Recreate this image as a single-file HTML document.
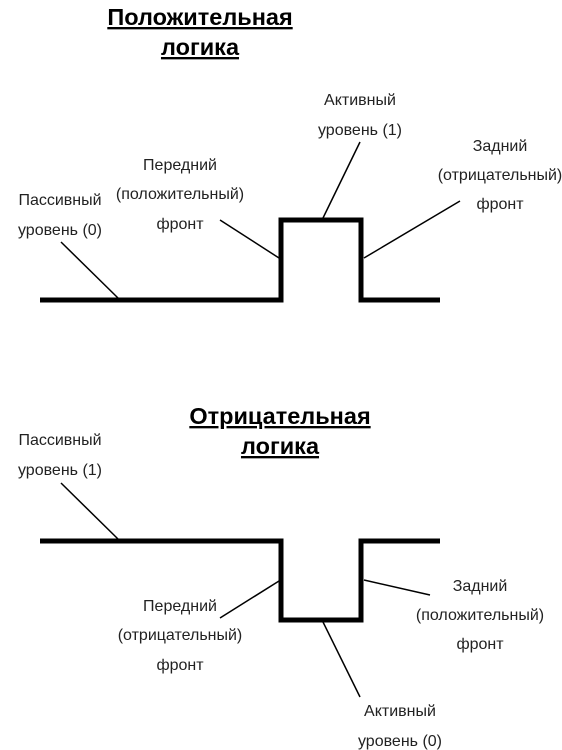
<!DOCTYPE html>
<html><head><meta charset="utf-8"><style>
html,body{margin:0;padding:0;background:#fff;}
svg{display:block;}
text{font-family:"Liberation Sans",Arial,sans-serif;fill:#222;}
.l{font-size:16px;}
.t{font-size:23.5px;font-weight:bold;fill:#000;text-decoration:underline;}
</style></head><body>
<svg width="562" height="750" viewBox="0 0 562 750" xmlns="http://www.w3.org/2000/svg">
<text class="t" x="200" y="25" text-anchor="middle">Положительная</text>
<text class="t" x="200" y="55" text-anchor="middle">логика</text>
<polyline points="40,300 281,300 281,220 361,220 361,300 440,300" fill="none" stroke="#000" stroke-width="5"/>
<g stroke="#000" stroke-width="1.5">
<line x1="61" y1="242" x2="118" y2="298"/>
<line x1="220" y1="220" x2="279" y2="258"/>
<line x1="360" y1="142" x2="323" y2="218"/>
<line x1="460" y1="201" x2="364" y2="258"/>
</g>
<g class="l">
<text x="60" y="205" text-anchor="middle">Пассивный</text>
<text x="60" y="235" text-anchor="middle">уровень (0)</text>
<text x="180" y="170" text-anchor="middle">Передний</text>
<text x="180" y="199" text-anchor="middle">(положительный)</text>
<text x="180" y="229" text-anchor="middle">фронт</text>
<text x="360" y="105" text-anchor="middle">Активный</text>
<text x="360" y="135" text-anchor="middle">уровень (1)</text>
<text x="500" y="151" text-anchor="middle">Задний</text>
<text x="500" y="180" text-anchor="middle">(отрицательный)</text>
<text x="500" y="209" text-anchor="middle">фронт</text>
</g>

<text class="t" x="280" y="424" text-anchor="middle">Отрицательная</text>
<text class="t" x="280" y="454" text-anchor="middle">логика</text>
<polyline points="40,541 281,541 281,620 361,620 361,541 440,541" fill="none" stroke="#000" stroke-width="5"/>
<g stroke="#000" stroke-width="1.5">
<line x1="61" y1="483" x2="118" y2="539"/>
<line x1="220" y1="618" x2="279" y2="581"/>
<line x1="323" y1="622" x2="360" y2="697"/>
<line x1="430" y1="595" x2="364" y2="580"/>
</g>
<g class="l">
<text x="60" y="445" text-anchor="middle">Пассивный</text>
<text x="60" y="475" text-anchor="middle">уровень (1)</text>
<text x="180" y="611" text-anchor="middle">Передний</text>
<text x="180" y="640" text-anchor="middle">(отрицательный)</text>
<text x="180" y="670" text-anchor="middle">фронт</text>
<text x="480" y="591" text-anchor="middle">Задний</text>
<text x="480" y="620" text-anchor="middle">(положительный)</text>
<text x="480" y="649" text-anchor="middle">фронт</text>
<text x="400" y="716" text-anchor="middle">Активный</text>
<text x="400" y="746" text-anchor="middle">уровень (0)</text>
</g>
</svg>
</body></html>
